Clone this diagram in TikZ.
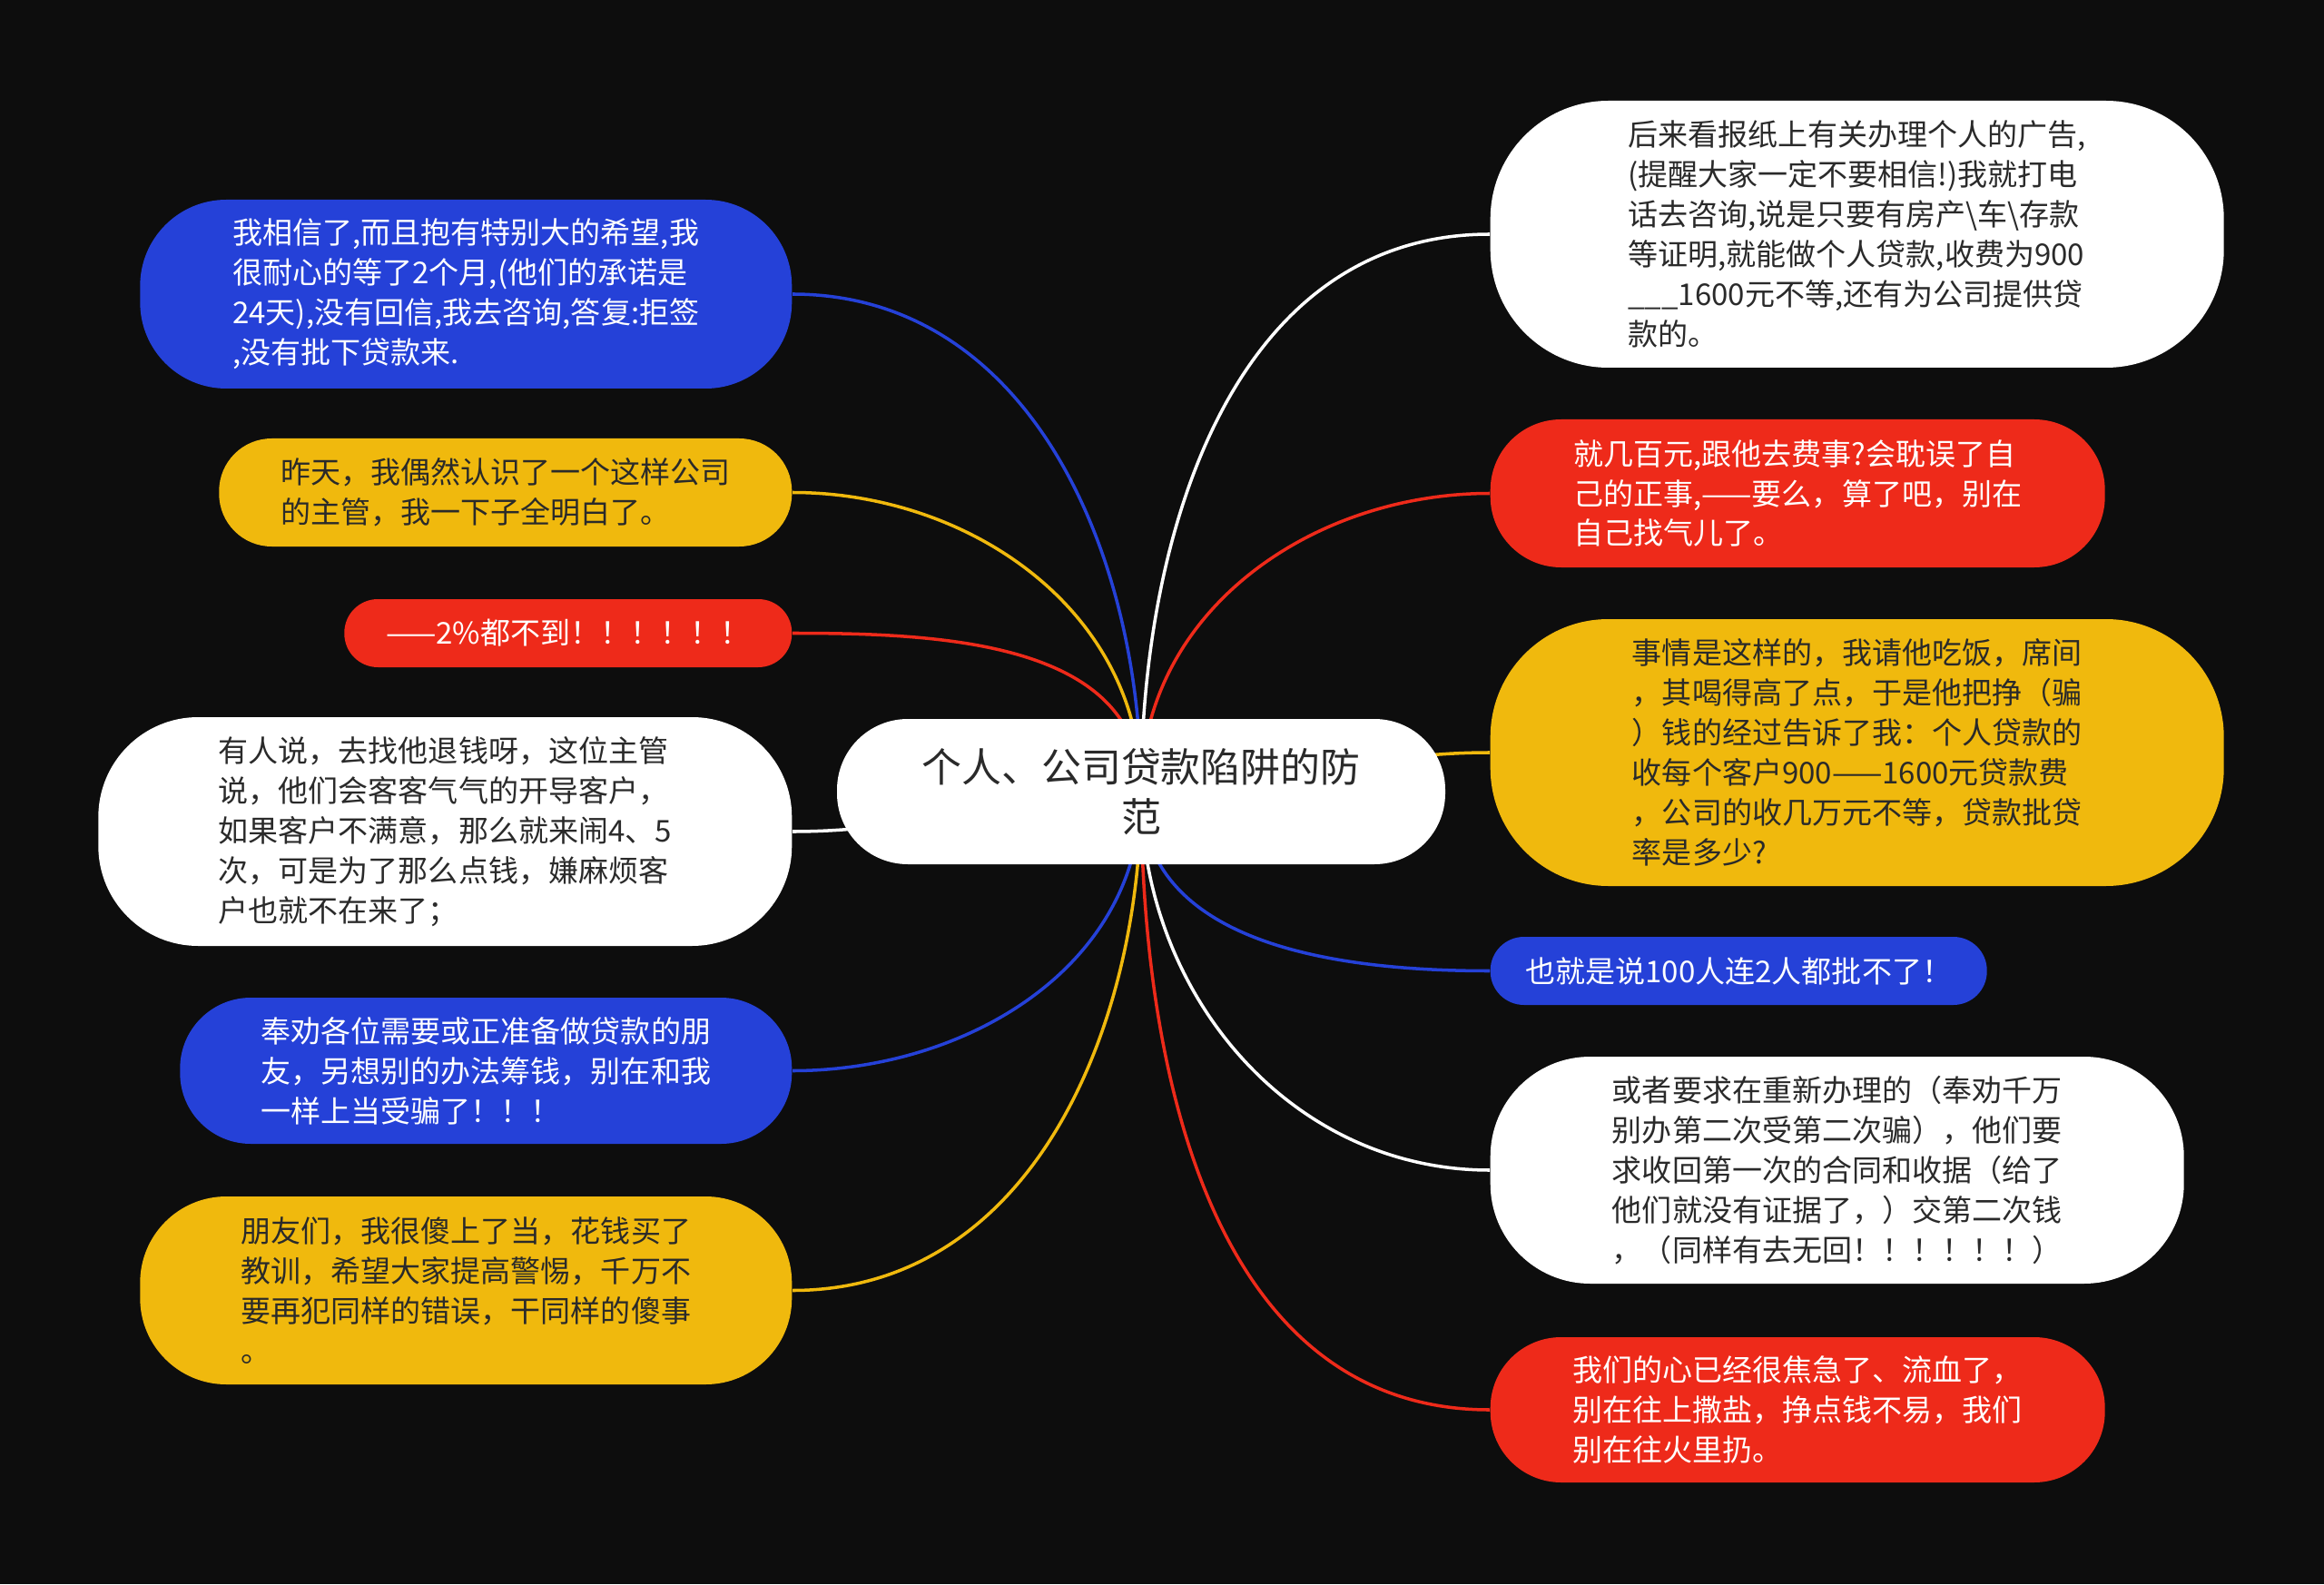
\documentclass[tikz,border=0pt]{standalone}
\usepackage{fontspec}
\setmainfont{Noto Sans CJK SC}
\definecolor{bgc}{HTML}{0D0D0D}
\definecolor{mblue}{HTML}{2541D8}
\definecolor{mred}{HTML}{EE2A1A}
\definecolor{myellow}{HTML}{F0B90D}
\definecolor{ink}{HTML}{2A2A2A}
\pgfdeclarelayer{bg}
\pgfdeclarelayer{wires}
\pgfsetlayers{bg,wires,main}
\begin{document}
\begin{tikzpicture}[
  leaf/.style={rounded corners=#1,inner sep=0pt,align=left,font=\fontsize{9.4}{12.5}\selectfont},
  lft/.style={anchor=east},
  rgt/.style={anchor=west},
  wire/.style={line width=1pt}
]
  \begin{pgfonlayer}{bg}
    \fill[bgc] (0,0) rectangle (25.6,17.45);
  \end{pgfonlayer}
  \useasboundingbox (0,0) rectangle (25.6,17.45);

  \node[leaf=0.78cm,fill=white,text=ink,align=center,font=\fontsize{12.5}{15.6}\selectfont,minimum width=6.7cm,minimum height=1.6cm] (root) at (12.57,8.73) {个人、公司贷款陷阱的防\\范};

  \node[leaf=0.95cm,lft,fill=mblue,text=white,minimum width=7.18cm,minimum height=2.08cm] (bl1) at (8.73,14.21) {我相信了,而且抱有特别大的希望,我\\很耐心的等了2个月,(他们的承诺是\\24天),没有回信,我去咨询,答复:拒签\\,没有批下贷款来.};
  \node[leaf=0.58cm,lft,fill=myellow,text=ink,minimum width=6.31cm,minimum height=1.19cm] (yl2) at (8.73,12.025) {昨天，我偶然认识了一个这样公司\\的主管，我一下子全明白了。};
  \node[leaf=0.37cm,lft,fill=mred,text=white,minimum width=4.93cm,minimum height=0.75cm] (rl3) at (8.73,10.475) {——2\%都不到！！！！！！};
  \node[leaf=1.1cm,lft,fill=white,text=ink,minimum width=7.64cm,minimum height=2.52cm] (wl4) at (8.73,8.29) {有人说，去找他退钱呀，这位主管\\说，他们会客客气气的开导客户，\\如果客户不满意，那么就来闹4、5\\次，可是为了那么点钱，嫌麻烦客\\户也就不在来了；};
  \node[leaf=0.78cm,lft,fill=mblue,text=white,minimum width=6.74cm,minimum height=1.61cm] (bl5) at (8.73,5.655) {奉劝各位需要或正准备做贷款的朋\\友，另想别的办法筹钱，别在和我\\一样上当受骗了！！！};
  \node[leaf=0.95cm,lft,fill=myellow,text=ink,minimum width=7.18cm,minimum height=2.07cm] (yl6) at (8.73,3.235) {朋友们，我很傻上了当，花钱买了\\教训，希望大家提高警惕，千万不\\要再犯同样的错误，干同样的傻事\\。};

  \node[leaf=1.3cm,rgt,fill=white,text=ink,minimum width=8.08cm,minimum height=2.94cm] (wr1) at (16.41,14.87) {后来看报纸上有关办理个人的广告,\\(提醒大家一定不要相信!)我就打电\\话去咨询,说是只要有房产\textbackslash 车\textbackslash 存款\\等证明,就能做个人贷款,收费为900\\\_\_\_1600元不等,还有为公司提供贷\\款的。};
  \node[leaf=0.78cm,rgt,fill=mred,text=white,minimum width=6.77cm,minimum height=1.63cm] (rr2) at (16.41,12.015) {就几百元,跟他去费事?会耽误了自\\己的正事,——要么，算了吧，别在\\自己找气儿了。};
  \node[leaf=1.3cm,rgt,fill=myellow,text=ink,minimum width=8.08cm,minimum height=2.94cm] (yr3) at (16.41,9.16) {事情是这样的，我请他吃饭，席间\\，其喝得高了点，于是他把挣（骗\\）钱的经过告诉了我：个人贷款的\\收每个客户900——1600元贷款费\\，公司的收几万元不等，贷款批贷\\率是多少?};
  \node[leaf=0.37cm,rgt,fill=mblue,text=white,minimum width=5.47cm,minimum height=0.75cm] (br4) at (16.41,6.755) {也就是说100人连2人都批不了！};
  \node[leaf=1.1cm,rgt,fill=white,text=ink,minimum width=7.64cm,minimum height=2.5cm] (wr5) at (16.41,4.56) {或者要求在重新办理的（奉劝千万\\别办第二次受第二次骗），他们要\\求收回第一次的合同和收据（给了\\他们就没有证据了，）交第二次钱\\，（同样有去无回！！！！！！）};
  \node[leaf=0.78cm,rgt,fill=mred,text=white,minimum width=6.77cm,minimum height=1.6cm] (rr6) at (16.41,1.92) {我们的心已经很焦急了、流血了，\\别在往上撒盐，挣点钱不易，我们\\别在往火里扔。};

  \begin{pgfonlayer}{wires}
    \draw[wire,mblue] (root.center) to[out=90,in=0] (bl1.east);
    \draw[wire,myellow] (root.center) to[out=90,in=0] (yl2.east);
    \draw[wire,mred] (root.center) to[out=90,in=0] (rl3.east);
    \draw[wire,white] (root.center) to[out=180,in=0] (wl4.east);
    \draw[wire,mblue] (root.center) to[out=270,in=0] (bl5.east);
    \draw[wire,myellow] (root.center) to[out=270,in=0] (yl6.east);
    \draw[wire,white] (root.center) to[out=90,in=180] (wr1.west);
    \draw[wire,mred] (root.center) to[out=90,in=180] (rr2.west);
    \draw[wire,myellow] (root.center) to[out=0,in=180] (yr3.west);
    \draw[wire,mblue] (root.center) to[out=270,in=180] (br4.west);
    \draw[wire,white] (root.center) to[out=270,in=180] (wr5.west);
    \draw[wire,mred] (root.center) to[out=270,in=180] (rr6.west);
  \end{pgfonlayer}
\end{tikzpicture}
\end{document}
